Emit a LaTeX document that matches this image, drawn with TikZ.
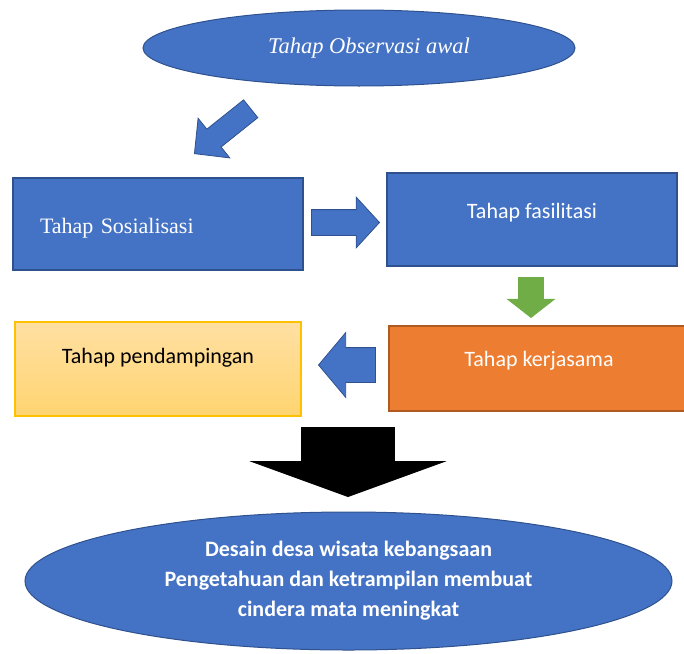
\documentclass[tikz,border=0pt]{standalone}
\usepackage{fontspec}
\setmainfont{Carlito}
\newfontfamily\serifword{Liberation Serif}
\usepackage{tikz}
\usetikzlibrary{shapes.geometric, shapes.arrows, positioning}
\definecolor{wordblue}{HTML}{4472C4}
\definecolor{wordblueline}{HTML}{2F528F}
\definecolor{wordorange}{HTML}{ED7D31}
\definecolor{wordorangeline}{HTML}{AE5A21}
\definecolor{wordgreen}{HTML}{70AD47}
\definecolor{wordgold}{HTML}{FFC000}
\definecolor{paletop}{HTML}{FFE0A3}
\definecolor{palebottom}{HTML}{FFD470}
\tikzstyle{phase} = [rectangle, inner sep=0pt, text=white, line width=1.3pt,
font=\fontsize{22}{26}\selectfont]
\tikzstyle{bluephase} = [phase, draw=wordblueline, fill=wordblue]
\tikzstyle{oval} = [ellipse, inner sep=0pt, draw=wordblueline, fill=wordblue,
text=white, line width=1pt]
\tikzstyle{blockarrow} = [single arrow, inner xsep=0pt, anchor=tip,
single arrow head indent=0pt, line width=0.8pt]

\begin{document}
\begin{tikzpicture}[x=1pt, y=-1pt]
    \useasboundingbox (0,0) rectangle (684,653);
    \node (obs) [oval, minimum width=432pt, minimum height=76pt,
      font=\serifword\itshape\fontsize{22.5}{26}\selectfont] at (359,48)
    {\hspace*{20pt}Tahap Observasi awal};
    \node (sos) [bluephase, minimum width=290pt, minimum height=92pt,
      text width=236pt, inner xsep=27pt, align=left, text height=22pt,
      text depth=4pt, font=\serifword\fontsize{22}{26}\selectfont] at (158,224)
    {Tahap Sosialisasi};
    \node (fas) [bluephase, minimum width=290pt, minimum height=93pt,
      text height=15pt, text depth=18pt] at (532,219.5) {Tahap fasilitasi};
    \node (pend) [phase, draw=wordgold, top color=paletop,
      bottom color=palebottom, text=black, minimum width=286pt,
      minimum height=94pt, text height=15pt, text depth=27pt] at (158,369)
    {Tahap pendampingan};
    \node (ker) [phase, draw=wordorangeline, fill=wordorange,
      minimum width=300pt, minimum height=85pt, text height=15pt,
      text depth=20pt] at (539,368.5) {Tahap kerjasama};
    \node (result) [oval, minimum width=647pt, minimum height=138pt,
      align=center, font=\bfseries\fontsize{22}{30}\selectfont] at (348.5,581)
    {Desain desa wisata kebangsaan\\ Pengetahuan dan ketrampilan membuat\\
      cindera mata meningkat};

    % block arrows, placed by their tips
    \node (obs-sos) [blockarrow, draw=wordblueline, fill=wordblue, rotate=218.6,
      minimum height=72pt, inner ysep=11pt, single arrow head extend=14pt,
      single arrow tip angle=91] at (194,154) {};
    \node (sos-fas) [blockarrow, draw=wordblueline, fill=wordblue,
      minimum height=68pt, inner ysep=12.5pt, single arrow head extend=12.5pt,
      single arrow tip angle=95] at (380,222.5) {};
    \node (fas-ker) [blockarrow, draw=wordgreen, fill=wordgreen, rotate=-90,
      minimum height=40pt, inner ysep=12pt, single arrow head extend=11pt,
      single arrow tip angle=104] at (531,318) {};
    \node (ker-pend) [blockarrow, draw=wordblueline, fill=wordblue, rotate=180,
      minimum height=57pt, inner ysep=17pt, single arrow head extend=15pt,
      single arrow tip angle=100] at (318,365) {};
    \node (pend-result) [blockarrow, draw=black, fill=black, rotate=-90,
      minimum height=69pt, inner ysep=46pt, single arrow head extend=50pt,
      single arrow tip angle=140] at (348,497) {};
\end{tikzpicture}
\end{document}
